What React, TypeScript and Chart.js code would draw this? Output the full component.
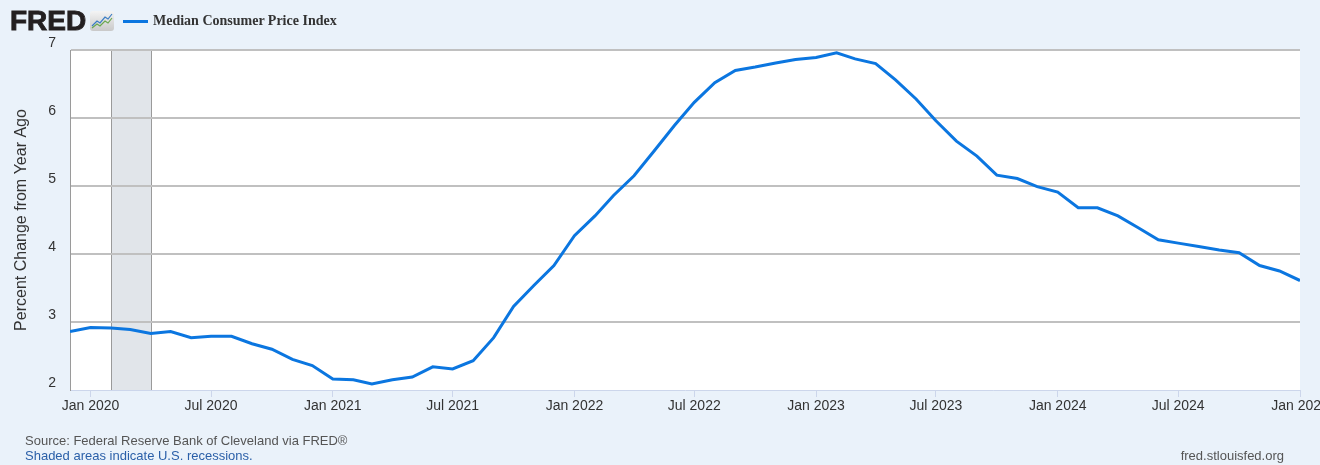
import React, { useEffect, useRef } from "react";
import { Chart, registerables } from "chart.js";

Chart.register(...registerables);

const seriesName = "Median Consumer Price Index";
const yAxisTitle = "Percent Change from Year Ago";

const months = [
  "2019-12",
  "2020-01", "2020-02", "2020-03", "2020-04", "2020-05", "2020-06",
  "2020-07", "2020-08", "2020-09", "2020-10", "2020-11", "2020-12",
  "2021-01", "2021-02", "2021-03", "2021-04", "2021-05", "2021-06",
  "2021-07", "2021-08", "2021-09", "2021-10", "2021-11", "2021-12",
  "2022-01", "2022-02", "2022-03", "2022-04", "2022-05", "2022-06",
  "2022-07", "2022-08", "2022-09", "2022-10", "2022-11", "2022-12",
  "2023-01", "2023-02", "2023-03", "2023-04", "2023-05", "2023-06",
  "2023-07", "2023-08", "2023-09", "2023-10", "2023-11", "2023-12",
  "2024-01", "2024-02", "2024-03", "2024-04", "2024-05", "2024-06",
  "2024-07", "2024-08", "2024-09", "2024-10", "2024-11", "2024-12",
  "2025-01",
];

const medianCPI = [
  2.86,
  2.92, 2.91, 2.89, 2.83, 2.86, 2.77,
  2.79, 2.79, 2.68, 2.60, 2.45, 2.36,
  2.16, 2.15, 2.09, 2.15, 2.19, 2.34,
  2.31, 2.43, 2.77, 3.23, 3.54, 3.83,
  4.27, 4.56, 4.86, 5.15, 5.51, 5.89,
  6.23, 6.52, 6.70, 6.75, 6.81, 6.86,
  6.89, 6.96, 6.87, 6.80, 6.56, 6.28,
  5.96, 5.66, 5.44, 5.16, 5.11, 4.99,
  4.91, 4.68, 4.68, 4.56, 4.39, 4.21,
  4.16, 4.11, 4.06, 4.02, 3.83, 3.75,
  3.61,
];

const tickMonths = [
  "2020-01", "2020-07", "2021-01", "2021-07", "2022-01", "2022-07",
  "2023-01", "2023-07", "2024-01", "2024-07", "2025-01",
];
const tickLabels = [
  "Jan 2020", "Jul 2020", "Jan 2021", "Jul 2021", "Jan 2022", "Jul 2022",
  "Jan 2023", "Jul 2023", "Jan 2024", "Jul 2024", "Jan 2025",
];

const recessionStarts = ["2020-02"];
const recessionEnds = ["2020-04"];

const xStart = "2019-12";
const xEnd = "2025-01";
const yMin = 2;
const yMax = 7;

const toDay = (ym: string) => {
  const [y, m] = ym.split("-").map(Number);
  return Date.UTC(y, m - 1, 1) / 86400000;
};

const LINE_COLOR = "#0b76e0";
const FONT = "'Liberation Sans', Arial, sans-serif";

export default function App() {
  const canvasRef = useRef<HTMLCanvasElement | null>(null);

  useEffect(() => {
    document.body.style.margin = "0";
    const canvas = canvasRef.current;
    if (!canvas) return;

    const tickDays = tickMonths.map(toDay);

    const backgroundPlugin = {
      id: "plotBg",
      beforeDraw(chart: any) {
        const { ctx, chartArea } = chart;
        ctx.save();
        ctx.fillStyle = "#ffffff";
        ctx.fillRect(chartArea.left, chartArea.top, chartArea.right - chartArea.left, chartArea.bottom - chartArea.top);
        const xs = chart.scales.x;
        recessionStarts.forEach((s, i) => {
          const x0 = Math.round(xs.getPixelForValue(toDay(s)));
          const x1 = Math.round(xs.getPixelForValue(toDay(recessionEnds[i])));
          ctx.fillStyle = "#e1e5ea";
          ctx.fillRect(x0, chartArea.top, x1 - x0, chartArea.bottom - chartArea.top);
          ctx.strokeStyle = "#9a9a9a";
          ctx.lineWidth = 1;
          ctx.beginPath();
          ctx.moveTo(x0 + 0.5, chartArea.top);
          ctx.lineTo(x0 + 0.5, chartArea.bottom);
          ctx.moveTo(x1 + 0.5, chartArea.top);
          ctx.lineTo(x1 + 0.5, chartArea.bottom);
          ctx.stroke();
        });
        ctx.restore();
      },
    };

    const chart = new Chart(canvas, {
      type: "line",
      data: {
        datasets: [
          {
            label: seriesName,
            data: months.map((m, i) => ({ x: toDay(m), y: medianCPI[i] })),
            borderColor: LINE_COLOR,
            borderWidth: 3,
            pointRadius: 0,
            tension: 0,
            fill: false,
          },
        ],
      },
      options: {
        responsive: false,
        animation: false,
        layout: { padding: { top: 50, right: 20, left: 0, bottom: 0 }, autoPadding: false },
        plugins: {
          legend: { display: false },
          tooltip: { enabled: false },
        },
        scales: {
          x: {
            type: "linear",
            min: toDay(xStart),
            max: toDay(xEnd),
            afterBuildTicks: (scale: any) => {
              scale.ticks = tickDays.map((v) => ({ value: v }));
            },
            afterFit: (scale: any) => {
              scale.height = 75;
              scale.paddingLeft = 0;
              scale.paddingRight = 0;
            },
            ticks: {
              autoSkip: false,
              maxRotation: 0,
              minRotation: 0,
              padding: 1,
              color: "#333333",
              font: { family: FONT, size: 14 },
              callback: (v: any) => {
                const idx = tickDays.indexOf(Number(v));
                return idx >= 0 ? tickLabels[idx] : "";
              },
            },
            grid: {
              display: true,
              drawOnChartArea: false,
              drawTicks: true,
              tickLength: 7,
              color: "#ccd6eb",
              lineWidth: 1,
            },
            border: { display: true, color: "#ccd6eb", width: 1 },
          },
          y: {
            type: "linear",
            min: yMin,
            max: yMax,
            afterFit: (scale: any) => {
              scale.width = 70;
              scale.paddingTop = 0;
              scale.paddingBottom = 0;
            },
            ticks: {
              stepSize: 1,
              padding: 14,
              labelOffset: -7,
              color: "#333333",
              font: { family: FONT, size: 14 },
            },
            grid: {
              drawTicks: false,
              color: (c: any) => (c.tick && c.tick.value === yMin ? "rgba(0,0,0,0)" : "#c0c0c0"),
              lineWidth: 2,
            },
            border: { display: true, color: "#9a9a9a", width: 1 },
            title: {
              display: true,
              text: yAxisTitle,
              color: "#333333",
              font: { family: FONT, size: 16 },
              padding: { top: 12, bottom: 0 },
            },
          },
        },
      },
      plugins: [backgroundPlugin],
    });

    return () => chart.destroy();
  }, []);

  return (
    <div style={{ position: "relative", width: 1320, height: 465, background: "#eaf2fa", overflow: "hidden", fontFamily: FONT }}>
      <canvas ref={canvasRef} width={1320} height={465} style={{ position: "absolute", left: 0, top: 0, width: 1320, height: 465 }} />
      <div style={{ position: "absolute", left: 10, top: 3, fontSize: 28, fontWeight: 900, color: "#231f20", letterSpacing: 0, lineHeight: "36px", WebkitTextStroke: "0.9px #231f20", fontFamily: "'Liberation Sans', Arial, sans-serif" }}>FRED</div>
      <div style={{ position: "absolute", left: 90, top: 11, width: 24, height: 20, borderRadius: 3, background: "linear-gradient(#f4f4f4, #c9c9c9)" }}>
        <svg width="24" height="20" style={{ position: "absolute", left: 0, top: 0 }}>
          <polyline points="2,15 7,10 10,12 15,6 18,8 22,3" fill="none" stroke="#3b7dc4" strokeWidth="1.2" />
          <polyline points="2,17 7,13 10,15 15,10 18,12 22,7" fill="none" stroke="#6aa84f" strokeWidth="1.2" />
        </svg>
      </div>
      <div style={{ position: "absolute", left: 123, top: 20, width: 25, height: 3, background: LINE_COLOR }} />
      <div style={{ position: "absolute", left: 153, top: 12, fontSize: 14, fontWeight: "bold", color: "#333333", fontFamily: "'Liberation Serif', 'Times New Roman', serif", lineHeight: "18px", whiteSpace: "nowrap" }}>{seriesName}</div>
      <div style={{ position: "absolute", left: 25, top: 433, fontSize: 13, color: "#555555", lineHeight: "16px", whiteSpace: "nowrap" }}>Source: Federal Reserve Bank of Cleveland via FRED®</div>
      <div style={{ position: "absolute", left: 25, top: 448, fontSize: 13, color: "#2a5fa8", lineHeight: "16px", whiteSpace: "nowrap" }}>Shaded areas indicate U.S. recessions.</div>
      <div style={{ position: "absolute", right: 36, top: 448, fontSize: 13, color: "#555555", lineHeight: "16px", whiteSpace: "nowrap" }}>fred.stlouisfed.org</div>
    </div>
  );
}
